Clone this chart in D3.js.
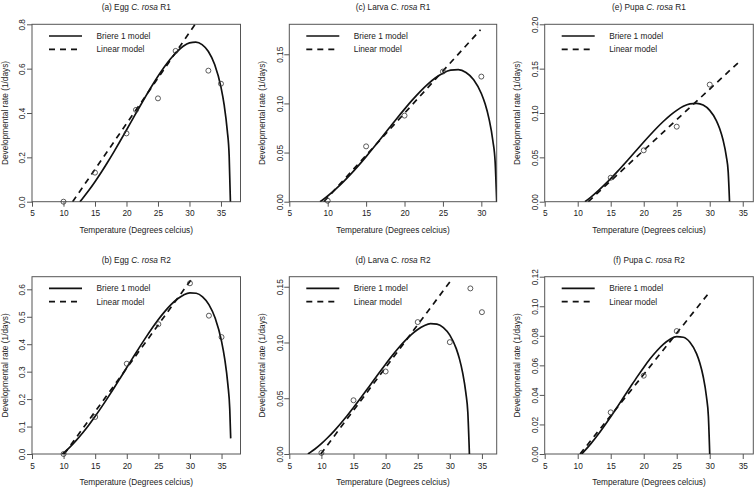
<!DOCTYPE html>
<html>
<head>
<meta charset="utf-8">
<script src="https://cdn.jsdelivr.net/npm/d3@7"></script>
<style>
  html, body { margin: 0; padding: 0; background: #fff; }
  svg { display: block; }
  text { font-family: "Liberation Sans", Arial, sans-serif; fill: #222; }
</style>
</head>
<body>
<svg id="chart" width="756" height="490"></svg>
<script>
// ---------------- DATA ----------------
// (a) Egg R1
const eggR1ObsT    = [10, 15, 20, 21.5, 25, 27.8, 33, 35];
const eggR1ObsRate = [0.0, 0.131, 0.308, 0.414, 0.466, 0.68, 0.591, 0.532];
const eggR1BriT    = [12.6, 13, 14, 15, 16, 17, 18, 19, 20, 21, 22, 23, 24, 25, 26, 27, 28, 29, 30, 31, 32, 33, 34, 35, 35.5, 36, 36.3, 36.5];
const eggR1BriRate = [0, 0.0136, 0.050, 0.0898, 0.1325, 0.1777, 0.2249, 0.2736, 0.3234, 0.3736, 0.4236, 0.4727, 0.5204, 0.5655, 0.6072, 0.6446, 0.6761, 0.7007, 0.716, 0.7195, 0.7083, 0.6775, 0.6188, 0.5166, 0.4373, 0.3204, 0.2069, 0];
const eggR1LinT    = [11.45, 30.9];
const eggR1LinRate = [0, 0.8];

// (b) Egg R2
const eggR2ObsT    = [10, 15, 20, 25, 30, 33, 35];
const eggR2ObsRate = [0.0, 0.135, 0.329, 0.473, 0.622, 0.504, 0.426];
const eggR2BriT    = [9.8, 10, 11, 12, 13, 14, 15, 16, 17, 18, 19, 20, 21, 22, 23, 24, 25, 26, 27, 28, 29, 30, 31, 32, 33, 34, 35, 35.5, 36, 36.3, 36.45];
const eggR2BriRate = [0, 0.0039, 0.0253, 0.0497, 0.0767, 0.1060, 0.1375, 0.1708, 0.2055, 0.2413, 0.2780, 0.3150, 0.3520, 0.3885, 0.4240, 0.4581, 0.4898, 0.5188, 0.5441, 0.5647, 0.5797, 0.5874, 0.5858, 0.5728, 0.5445, 0.4945, 0.4107, 0.3468, 0.2535, 0.1635, 0.057];
const eggR2LinT    = [10.1, 30.5];
const eggR2LinRate = [0, 0.645];

// (c) Larva R1
const larR1ObsT    = [10, 15, 20, 25, 30];
const larR1ObsRate = [0.001, 0.0563, 0.0876, 0.1324, 0.1273];
const larR1BriT    = [9.0, 9.5, 10, 11, 12, 13, 14, 15, 16, 17, 18, 19, 20, 21, 22, 23, 24, 25, 26, 27, 28, 29, 30, 30.5, 31, 31.5, 31.8, 32];
const larR1BriRate = [0, 0.0028, 0.0058, 0.0125, 0.0199, 0.0280, 0.0367, 0.0459, 0.0554, 0.0651, 0.0749, 0.0847, 0.0942, 0.1033, 0.1118, 0.1194, 0.1259, 0.1308, 0.1338, 0.1343, 0.1315, 0.1242, 0.1101, 0.0993, 0.0843, 0.0620, 0.0401, 0];
const larR1LinT    = [9.5, 29.9];
const larR1LinRate = [0, 0.175];

// (d) Larva R2
const larR2ObsT    = [10, 15, 20, 25, 30, 33.2, 35];
const larR2ObsRate = [0.001, 0.0482, 0.074, 0.1183, 0.1003, 0.1485, 0.1272];
const larR2BriT    = [7.9, 8, 9, 10, 11, 12, 13, 14, 15, 16, 17, 18, 19, 20, 21, 22, 23, 24, 25, 26, 27, 28, 29, 30, 31, 31.5, 32, 32.5, 32.8, 33.05];
const larR2BriRate = [0, 0.0004, 0.0045, 0.0093, 0.0148, 0.0208, 0.0274, 0.0343, 0.0417, 0.0493, 0.0571, 0.0650, 0.0728, 0.0805, 0.0880, 0.0950, 0.1014, 0.1071, 0.1117, 0.1151, 0.1169, 0.1165, 0.1134, 0.1066, 0.0945, 0.0853, 0.0728, 0.0546, 0.0376, 0];
const larR2LinT    = [9.9, 30.1];
const larR2LinRate = [0, 0.155];

// (e) Pupa R1
const pupR1ObsT    = [15, 20, 25, 30];
const pupR1ObsRate = [0.027, 0.0579, 0.0846, 0.132];
const pupR1BriT    = [11.1, 12, 13, 14, 15, 16, 17, 18, 19, 20, 21, 22, 23, 24, 25, 26, 27, 28, 29, 30, 31, 31.5, 32, 32.5, 32.8, 33];
const pupR1BriRate = [0, 0.0052, 0.0116, 0.0186, 0.0260, 0.0339, 0.0421, 0.0504, 0.0589, 0.0673, 0.0755, 0.0834, 0.0907, 0.0974, 0.1030, 0.1075, 0.1102, 0.1109, 0.1089, 0.1030, 0.0915, 0.0825, 0.0701, 0.0516, 0.0334, 0];
const pupR1LinT    = [11.6, 34.5];
const pupR1LinRate = [0, 0.158];

// (f) Pupa R2
const pupR2ObsT    = [15, 20, 25];
const pupR2ObsRate = [0.0282, 0.053, 0.0832];
const pupR2BriT    = [10.6, 11, 12, 13, 14, 15, 16, 17, 18, 19, 20, 21, 22, 23, 24, 25, 26, 27, 28, 28.5, 29, 29.5, 29.8, 30];
const pupR2BriRate = [0, 0.0019, 0.0070, 0.0127, 0.0188, 0.0252, 0.0319, 0.0387, 0.0455, 0.0522, 0.0586, 0.0646, 0.0699, 0.0744, 0.0777, 0.0794, 0.0790, 0.0756, 0.0679, 0.0616, 0.0526, 0.0389, 0.0252, 0];
const pupR2LinT    = [10.35, 30.05];
const pupR2LinRate = [0, 0.11];

// tick labels
const xTicksA = [5, 10, 15, 20, 25, 30, 35];
const xTicksC = [5, 10, 15, 20, 25, 30];
const yTicksA = [0.0, 0.2, 0.4, 0.6, 0.8];
const yTicksB = [0.0, 0.1, 0.2, 0.3, 0.4, 0.5, 0.6];
const yTicksC = [0.00, 0.05, 0.10, 0.15];
const yTicksE = [0.00, 0.05, 0.10, 0.15, 0.20];
const yTicksF = [0.00, 0.02, 0.04, 0.06, 0.08, 0.10, 0.12];

const titlePre  = ["(a) Egg ", "(b) Egg ", "(c) Larva ", "(d) Larva ", "(e) Pupa ", "(f) Pupa "];
const titleSpecies = "C. rosa";
const titlePost = [" R1", " R2", " R1", " R2", " R1", " R2"];
const legendLabels = ["Briere 1 model", "Linear model"];
const xLabel = "Temperature (Degrees celcius)";
const yLabel = "Developmental rate (1/days)";

// ---------------- LAYOUT ----------------
const colLeft  = [32, 289.3, 544.7];
const colRight = [240.5, 496.7, 753.3];
const rowTop   = [24.3, 276.7];
const rowBot   = [201.7, 454];

const panels = [
  { col: 0, row: 0, xMax: 38.1, yMax: 0.8,   xt: xTicksA, yt: yTicksA, fmt: d3.format(".1f"),
    obsT: eggR1ObsT, obsR: eggR1ObsRate, briT: eggR1BriT, briR: eggR1BriRate, linT: eggR1LinT, linR: eggR1LinRate, ti: 0 },
  { col: 0, row: 1, xMax: 38.0, yMax: 0.646, xt: xTicksA, yt: yTicksB, fmt: d3.format(".1f"),
    obsT: eggR2ObsT, obsR: eggR2ObsRate, briT: eggR2BriT, briR: eggR2BriRate, linT: eggR2LinT, linR: eggR2LinRate, ti: 1 },
  { col: 1, row: 0, xMax: 32.0, yMax: 0.1805, xt: xTicksC, yt: yTicksC, fmt: d3.format(".2f"),
    obsT: larR1ObsT, obsR: larR1ObsRate, briT: larR1BriT, briR: larR1BriRate, linT: larR1LinT, linR: larR1LinRate, ti: 2 },
  { col: 1, row: 1, xMax: 37.3, yMax: 0.159, xt: xTicksA, yt: yTicksC, fmt: d3.format(".2f"),
    obsT: larR2ObsT, obsR: larR2ObsRate, briT: larR2BriT, briR: larR2BriRate, linT: larR2LinT, linR: larR2LinRate, ti: 3 },
  { col: 2, row: 0, xMax: 36.6, yMax: 0.2,   xt: xTicksA, yt: yTicksE, fmt: d3.format(".2f"),
    obsT: pupR1ObsT, obsR: pupR1ObsRate, briT: pupR1BriT, briR: pupR1BriRate, linT: pupR1LinT, linR: pupR1LinRate, ti: 4 },
  { col: 2, row: 1, xMax: 36.6, yMax: 0.12,  xt: xTicksA, yt: yTicksF, fmt: d3.format(".2f"),
    obsT: pupR2ObsT, obsR: pupR2ObsRate, briT: pupR2BriT, briR: pupR2BriRate, linT: pupR2LinT, linR: pupR2LinRate, ti: 5 }
];

const svg = d3.select("#chart");
const FS = 8.3;

panels.forEach((p, i) => {
  const L = colLeft[p.col], R = colRight[p.col], T = rowTop[p.row], B = rowBot[p.row];
  const x = d3.scaleLinear().domain([5, p.xMax]).range([L, R]);
  const y = d3.scaleLinear().domain([0, p.yMax]).range([B, T]);
  const g = svg.append("g");

  const clipId = "clip" + i;
  svg.append("clipPath").attr("id", clipId).append("rect")
    .attr("x", L).attr("y", T).attr("width", R - L).attr("height", B - T);

  // axes
  const xa = g.append("g").attr("transform", `translate(0,${B})`)
    .call(d3.axisBottom(x).tickValues(p.xt).tickSize(5).tickFormat(d3.format("d")));
  xa.select(".domain").remove();
  xa.selectAll("line").attr("stroke", "#555");
  xa.selectAll("text").attr("y", 14.6).attr("dy", 0).attr("font-size", FS).style("fill", "#222");

  const ya = g.append("g").attr("transform", `translate(${L},0)`)
    .call(d3.axisLeft(y).tickValues(p.yt).tickSize(5).tickFormat(p.fmt));
  ya.select(".domain").remove();
  ya.selectAll("line").attr("stroke", "#555");
  ya.selectAll("text").attr("x", null).attr("dy", null)
    .attr("text-anchor", "middle")
    .attr("transform", "translate(-6.6,0) rotate(-90)")
    .attr("font-size", FS).style("fill", "#222");

  // box
  g.append("rect").attr("x", L).attr("y", T).attr("width", R - L).attr("height", B - T)
    .attr("fill", "none").attr("stroke", "#555").attr("stroke-width", 1);

  // title
  const tt = g.append("text").attr("x", (L + R) / 2).attr("y", T - 14)
    .attr("text-anchor", "middle").attr("font-size", FS);
  tt.append("tspan").text(titlePre[p.ti]);
  tt.append("tspan").attr("font-style", "italic").text(titleSpecies);
  tt.append("tspan").text(titlePost[p.ti]);

  // axis labels
  g.append("text").attr("x", (L + R) / 2).attr("y", B + 31.3)
    .attr("text-anchor", "middle").attr("font-size", FS).text(xLabel);
  g.append("text").attr("transform", `translate(${L - 24.5},${(T + B) / 2}) rotate(-90)`)
    .attr("text-anchor", "middle").attr("font-size", FS).text(yLabel);

  const plot = g.append("g").attr("clip-path", `url(#${clipId})`);

  // linear model
  const linPts = p.linT.map((t, k) => [t, p.linR[k]]);
  plot.append("path").datum(linPts)
    .attr("d", d3.line().x(d => x(d[0])).y(d => y(d[1])))
    .attr("fill", "none").attr("stroke", "#111").attr("stroke-width", 1.7)
    .attr("stroke-dasharray", "6,5");

  // Briere curve
  const briPts = p.briT.map((t, k) => [t, p.briR[k]]);
  plot.append("path").datum(briPts)
    .attr("d", d3.line().curve(d3.curveMonotoneX).x(d => x(d[0])).y(d => y(d[1])))
    .attr("fill", "none").attr("stroke", "#111").attr("stroke-width", 1.7);

  // observations
  const obs = p.obsT.map((t, k) => [t, p.obsR[k]]);
  g.selectAll(null).data(obs).enter().append("circle")
    .attr("cx", d => x(d[0])).attr("cy", d => y(d[1])).attr("r", 2.5)
    .attr("fill", "none").attr("stroke", "#333").attr("stroke-width", 0.8);

  // legend
  const lg = g.append("g");
  const ly = [T + 11.7, T + 25];
  lg.append("line").attr("x1", L + 17).attr("x2", L + 50).attr("y1", ly[0]).attr("y2", ly[0])
    .attr("stroke", "#111").attr("stroke-width", 1.7);
  lg.append("line").attr("x1", L + 17).attr("x2", L + 50).attr("y1", ly[1]).attr("y2", ly[1])
    .attr("stroke", "#111").attr("stroke-width", 1.7).attr("stroke-dasharray", "6,5");
  legendLabels.forEach((lab, k) => {
    lg.append("text").attr("x", L + 64.5).attr("y", ly[k] + 3).attr("font-size", FS).text(lab);
  });
});
</script>
</body>
</html>
